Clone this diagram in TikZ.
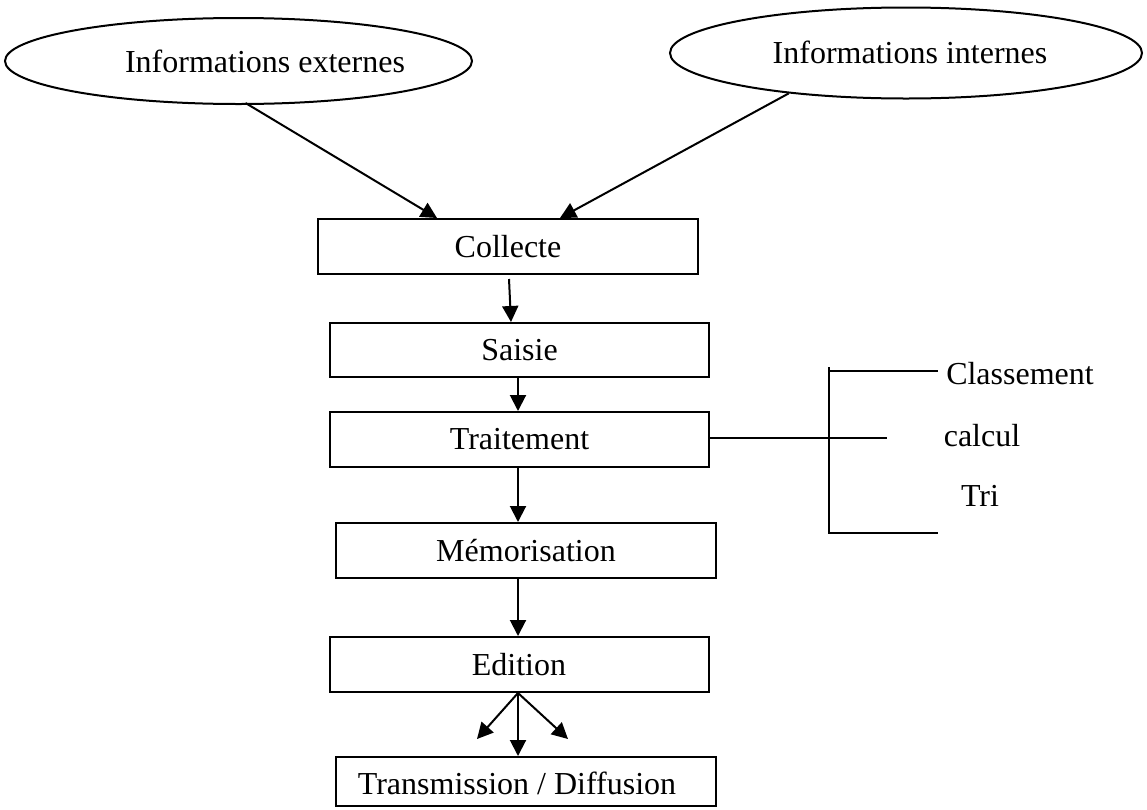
\documentclass[tikz,border=0pt]{standalone}
\usepackage{fontspec}
\setmainfont{Liberation Serif}
\usetikzlibrary{shapes.geometric,arrows.meta}
\begin{document}
\begin{tikzpicture}[x=1pt,y=-1pt,
  every node/.style={font=\fontsize{32}{38}\selectfont},
  box/.style={draw,line width=2pt,rectangle,inner sep=0pt},
  ell/.style={draw,line width=2pt,ellipse,inner sep=0pt},
  lbl/.style={inner sep=0pt},
  arr/.style={line width=2pt,-{Triangle[length=16pt,width=16pt]}},
  ln/.style={line width=2pt}]
\useasboundingbox (0,0) rectangle (1147,809);
% ellipses
\node[ell,minimum width=467pt,minimum height=86pt] (e1) at (238.5,61) {};
\node[lbl] (t1) at (265,61) {Informations externes};
\node[ell,minimum width=472pt,minimum height=91pt] (e2) at (906,53) {};
\node[lbl] (t2) at (910,52) {Informations internes};
% boxes
\node[box,minimum width=380pt,minimum height=55pt] (col) at (508,246.5) {Collecte};
\node[box,minimum width=379pt,minimum height=54pt] (sai) at (519.5,350) {Saisie};
\node[box,minimum width=379pt,minimum height=55pt] (tra) at (519.5,439.5) {Traitement};
\node[box,minimum width=380pt,minimum height=55pt] (mem) at (526,550.5) {Mémorisation};
\node[box,minimum width=379pt,minimum height=55pt] (edi) at (519.5,664.5) {};
\node[lbl] (edt) at (519,665) {Edition};
\node[box,minimum width=380pt,minimum height=49pt] (trd) at (526,781.5) {};
\node[lbl] (trt) at (517,783) {Transmission / Diffusion};
% arrows from ellipses
\draw[arr] ([xshift=7pt,yshift=2pt]e1.south) -- ([xshift=-71pt]col.north);
\draw[arr] (e2.199) -- ([xshift=52pt]col.north);
% vertical arrows
\draw[arr] ([xshift=1pt,yshift=-4pt]col.south) -- ([xshift=-8.5pt]sai.north);
\draw[arr] ([xshift=-1.5pt]sai.south) -- ([xshift=-1.5pt]tra.north);
\draw[arr] ([xshift=-1.5pt]tra.south) -- ([xshift=-8pt]mem.north);
\draw[arr] ([xshift=-8pt]mem.south) -- ([xshift=-1.5pt]edi.north);
\coordinate (fork) at ([xshift=-1.5pt]edi.south);
\coordinate (dl) at (477,739);
\coordinate (dr) at (568,739);
\draw[arr] (fork) -- (dl);
\draw[arr] (fork) -- ([xshift=-8pt]trd.north);
\draw[arr] (fork) -- (dr);
% bracket
\coordinate (bt) at (829,367);
\coordinate (bm) at (829,438);
\coordinate (bb) at (829,533);
\coordinate (et) at (938,371);
\coordinate (em) at (887,438);
\coordinate (eb) at (938,533);
\draw[ln] (tra.east |- bm) -- (bm) -- (em);
\draw[ln] (bt) -- (bb) -- (eb);
\draw[ln] (bt |- et) -- (et);
\node[lbl] (cla) at (1020,374) {Classement};
\node[lbl] (cal) at (982,436) {calcul};
\node[lbl] (tri) at (980,496) {Tri};
\end{tikzpicture}
\end{document}
